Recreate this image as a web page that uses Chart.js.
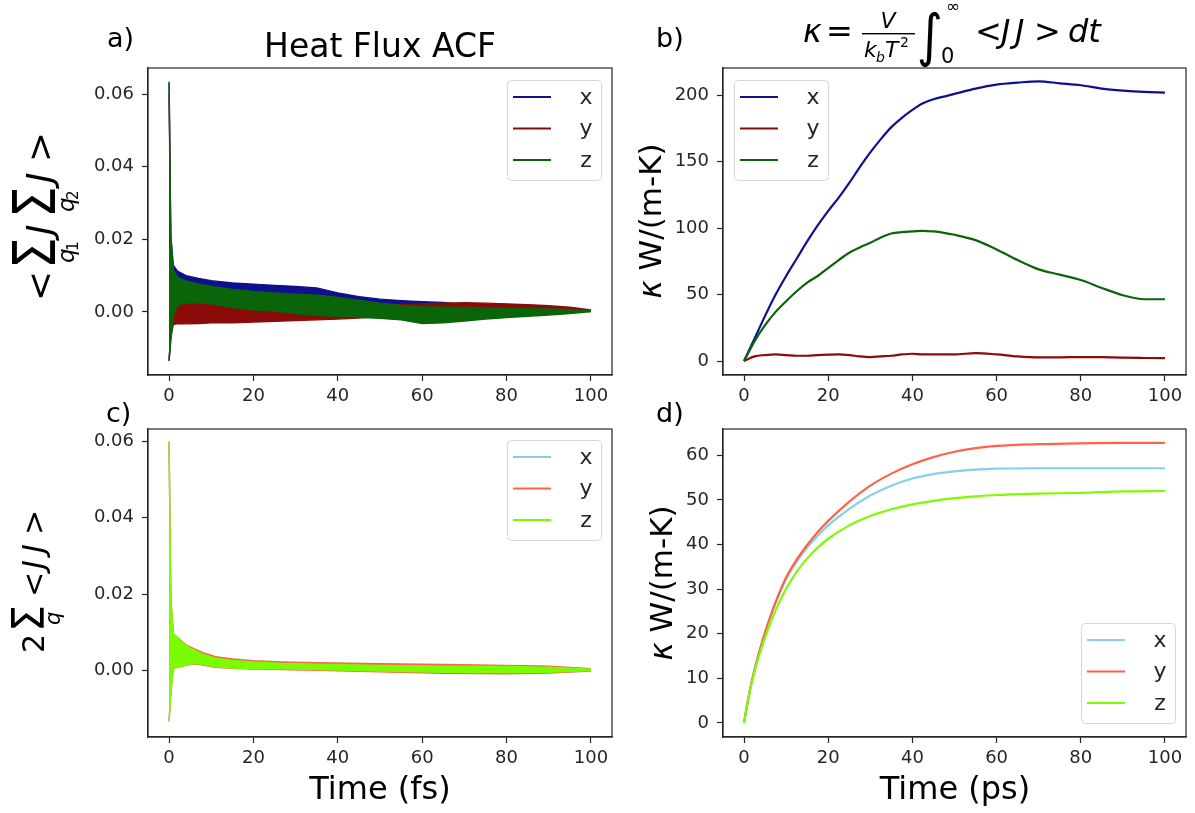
<!DOCTYPE html>
<html>
<head>
<meta charset="utf-8">
<title>Heat Flux ACF</title>
<script src="https://cdn.jsdelivr.net/npm/chart.js@4.4.1/dist/chart.umd.min.js"></script>
<style>
  body { margin: 0; background: #fff; }
  #fig { position: relative; width: 1195px; height: 813px; overflow: hidden; }
  #fig canvas { position: absolute; left: 0; top: 0; }
</style>
</head>
<body>
<div id="fig">
  <canvas id="panelA" width="1195" height="813"></canvas>
  <canvas id="panelB" width="1195" height="813"></canvas>
  <canvas id="panelC" width="1195" height="813"></canvas>
  <canvas id="panelD" width="1195" height="813"></canvas>
</div>
<script>
/* Data */

const names = ['x', 'y', 'z'];

// a) heat flux ACF, upper / lower edge of the noisy band for each direction
const tA = [0, 0.4, 1, 2, 4, 7, 10, 15, 20, 25, 30, 35, 40, 45, 50, 55, 60, 65, 70, 75, 80, 85, 90, 95, 100];
const aXHi = [0.063, 0.021, 0.0128, 0.0112, 0.0100, 0.0092, 0.0086, 0.0080, 0.0076, 0.0073, 0.0070, 0.0066, 0.0052, 0.0042, 0.0035, 0.0031, 0.0028, 0.0026, 0.0020, 0.0017, 0.0014, 0.0012, 0.0010, 0.0008, 0.0004];
const aXLo = [-0.0135, -0.006, -0.001, 0.0005, 0.0010, 0.0012, 0.0012, 0.0012, 0.0010, 0.0008, 0.0006, 0.0004, 0.0002, 0.0, -0.0002, -0.0004, -0.0006, -0.0006, -0.0005, -0.0004, -0.0003, -0.0002, -0.0001, 0.0, 0.0002];
const aYHi = [0.060, 0.015, 0.0035, 0.0030, 0.0028, 0.0026, 0.0024, 0.0018, 0.0012, 0.0010, 0.0009, 0.0009, 0.0012, 0.0015, 0.0018, 0.0020, 0.0022, 0.0024, 0.0025, 0.0024, 0.0022, 0.0020, 0.0017, 0.0013, 0.0005];
const aYLo = [-0.013, -0.007, -0.0035, -0.0032, -0.0033, -0.0032, -0.0030, -0.0030, -0.0028, -0.0026, -0.0024, -0.0022, -0.0020, -0.0017, -0.0013, -0.0010, -0.0008, -0.0006, -0.0004, -0.0003, -0.0002, -0.0001, 0.0, 0.0, 0.0001];
const aZHi = [0.0635, 0.021, 0.0115, 0.0095, 0.0085, 0.0076, 0.0070, 0.0062, 0.0056, 0.0052, 0.0049, 0.0046, 0.0040, 0.0032, 0.0024, 0.0018, 0.0014, 0.0013, 0.0012, 0.0011, 0.0010, 0.0009, 0.0008, 0.0006, 0.0004];
const aZLo = [-0.0135, -0.008, -0.001, 0.0018, 0.0025, 0.0025, 0.0022, 0.0012, 0.0005, 0.0002, -0.0005, -0.0010, -0.0012, -0.0015, -0.0018, -0.0022, -0.0032, -0.0030, -0.0025, -0.0020, -0.0016, -0.0012, -0.0009, -0.0005, 0.0001];

// b) kappa from the running integral (ps)
const tB = [0, 2.5, 5, 7.5, 10, 12.5, 15, 17.5, 20, 22.5, 25, 27.5, 30, 32.5, 35, 37.5, 40, 42.5, 45, 47.5, 50, 55, 60, 65, 70, 75, 80, 85, 90, 95, 100];
const bX = [0, 17, 34, 50, 64, 77, 90, 102, 113, 123, 134, 146, 157, 167, 176, 183, 189, 194, 197, 199, 201, 205, 208, 209.5, 210.5, 209, 207.5, 205, 203.5, 202.5, 202];
const bY = [0, 3.5, 4.5, 5, 4.5, 4, 4, 4.5, 4.8, 5, 4.5, 3.5, 3, 3.5, 4, 5, 5.5, 5, 5, 5, 5, 6, 5, 3.5, 2.8, 2.8, 3, 3, 2.5, 2.3, 2.2];
const bZ = [0, 15, 27, 37, 45, 52.5, 59, 64, 70, 76, 81.5, 85.5, 89, 93, 96, 97, 97.5, 98, 97.5, 96.5, 95, 91, 84, 76, 69, 65, 61, 55, 49.5, 46.5, 46.5];

// c) 2 sum_q <JJ>, band edges
const tC = [0, 0.4, 1, 2, 4, 6, 8, 11, 15, 20, 27, 35, 50, 65, 80, 90, 100];
const cXHi = [0.059, 0.018, 0.009, 0.008, 0.0062, 0.005, 0.004, 0.003, 0.0024, 0.002, 0.0016, 0.0014, 0.0011, 0.0009, 0.0008, 0.0006, 0.0002];
const cXLo = [-0.013, -0.005, 0.001, 0.001, 0.0015, 0.0019, 0.0016, 0.001, 0.0007, 0.0005, 0.0005, 0.0003, 0.0, -0.0003, -0.0004, -0.0003, 0.0];
const cYHi = [0.0600, 0.019, 0.0096, 0.0086, 0.0067, 0.0056, 0.0046, 0.0036, 0.0030, 0.0025, 0.0022, 0.0020, 0.0017, 0.0015, 0.0013, 0.0011, 0.0004];
const cYLo = [-0.0133, -0.006, 0.0005, 0.0008, 0.0013, 0.0017, 0.0014, 0.0008, 0.0005, 0.0003, 0.0002, 0.0, -0.0004, -0.0008, -0.0009, -0.0007, -0.0002];
const cZHi = [0.0595, 0.019, 0.0095, 0.0085, 0.0065, 0.0053, 0.0042, 0.0032, 0.0026, 0.0022, 0.0018, 0.0016, 0.0013, 0.0011, 0.0010, 0.0008, 0.0003];
const cZLo = [-0.0135, -0.006, 0.0005, 0.0008, 0.0013, 0.0018, 0.0015, 0.0009, 0.0006, 0.0004, 0.0004, 0.0002, -0.0002, -0.0005, -0.0006, -0.0005, -0.0001];

// d) kappa (ps)
const tD = [0, 1, 2, 3, 4, 5, 6, 8, 10, 12.5, 15, 17.5, 20, 25, 30, 35, 40, 45, 50, 55, 60, 70, 80, 90, 100];
const dX = [0, 5.5, 10, 13.8, 17.2, 20.3, 23.2, 28.1, 32.2, 36.1, 39.3, 42, 44.3, 48, 51, 53.2, 54.8, 55.8, 56.4, 56.8, 57, 57.1, 57.1, 57.1, 57.1];
const dY = [0, 5.5, 10, 13.8, 17.2, 20.3, 23.2, 28.3, 32.6, 36.6, 39.9, 42.8, 45.3, 49.6, 53.2, 55.9, 58, 59.6, 60.8, 61.6, 62.1, 62.5, 62.7, 62.8, 62.8];
const dZ = [0, 5.3, 9.7, 13.3, 16.4, 19.2, 21.8, 26.3, 30.1, 33.9, 36.9, 39.3, 41.3, 44.3, 46.4, 47.9, 49, 49.8, 50.4, 50.8, 51.1, 51.4, 51.6, 51.9, 52];

// tick labels
const ticksTime = [0, 20, 40, 60, 80, 100];
const ticksACF = [0, 0.02, 0.04, 0.06];
const ticksKappaB = [0, 50, 100, 150, 200];
const ticksKappaD = [0, 10, 20, 30, 40, 50, 60];

/* Styles */
const W = 1195, H = 813;
const FONT = "'DejaVu Sans', sans-serif";
const INK = '#262626';
const darkColors = ['#10108e', '#8b0a0a', '#0a640a'];
const lightColors = ['#87ceeb', '#ff6347', '#7cfc00'];

function pts(xs, ys) {
    return xs.map((x, i) => ({x: x, y: ys[i]}));
}

// noisy ACF drawn as a filled band between its two edges
function bandDatasets(colors, t, his, los) {
    let out = [];
    names.forEach((n, i) => {
        out.push({label: n, data: pts(t, his[i]), borderColor: colors[i], backgroundColor: colors[i],
            borderWidth: 1.4, pointRadius: 0, fill: '+1', order: names.length - i});
        out.push({label: n, data: pts(t, los[i]), borderColor: colors[i], backgroundColor: colors[i],
            borderWidth: 1.4, pointRadius: 0, fill: false, order: names.length - i});
    });
    return out;
}

function lineDatasets(colors, t, ys) {
    return names.map((n, i) => ({
        label: n, data: pts(t, ys[i]), borderColor: colors[i], borderWidth: 2.2,
        pointRadius: 0, fill: false, cubicInterpolationMode: 'monotone', order: names.length - i
    }));
}

function axis(min, max, ticks, fmt, isX) {
    return {
        type: 'linear', min: min, max: max,
        afterBuildTicks: s => { s.ticks = ticks.map(v => ({value: v})); },
        afterFit: s => { if (isX) s.height = 40; else s.width = 70; },
        ticks: {font: {family: FONT, size: 18}, color: INK, padding: isX ? 5 : 8,
            maxRotation: 0, autoSkip: false, callback: fmt},
        grid: {drawOnChartArea: false, drawTicks: true, tickLength: 6, tickWidth: 1.2, tickColor: INK},
        border: {display: true, color: INK, width: 1.2}
    };
}

function text(ctx, s, x, y, size, opt) {
    opt = opt || {};
    ctx.save();
    ctx.font = (opt.it ? 'italic ' : '') + size + 'px ' + FONT;
    ctx.fillStyle = '#000';
    ctx.textAlign = opt.align || 'left';
    ctx.textBaseline = 'alphabetic';
    ctx.translate(x, y);
    ctx.scale(opt.sx || 1, opt.sy || 1);
    ctx.fillText(s, 0, 0);
    ctx.restore();
}

// pieces of a rotated (bottom to top) axis label
function rotated(ctx, x, y, pieces) {
    ctx.save();
    ctx.translate(x, y);
    ctx.rotate(-Math.PI / 2);
    pieces.forEach(p => text(ctx, p.s, p.x, p.y, p.size, p));
    ctx.restore();
}

function kappaLabel(ctx, x, y) {
    ctx.save();
    ctx.translate(x, y);
    ctx.rotate(-Math.PI / 2);
    ctx.font = 'italic 31px ' + FONT;
    let w1 = ctx.measureText('κ').width;
    ctx.font = '31px ' + FONT;
    let w2 = ctx.measureText(' W/(m-K)').width;
    let x0 = -(w1 + w2) / 2;
    text(ctx, 'κ', x0, 0, 31, {it: true});
    text(ctx, ' W/(m-K)', x0 + w1, 0, 31);
    ctx.restore();
}

function drawLegend(ctx, bx, by, colors) {
    ctx.save();
    ctx.beginPath();
    ctx.roundRect(bx + 0.5, by + 0.5, 94, 100, 4);
    ctx.fillStyle = 'rgba(255,255,255,0.8)';
    ctx.fill();
    ctx.strokeStyle = '#d6d6d6';
    ctx.lineWidth = 1;
    ctx.stroke();
    names.forEach((n, i) => {
        let y = by + 17 + i * 31.5;
        ctx.beginPath();
        ctx.moveTo(bx + 6, y);
        ctx.lineTo(bx + 44, y);
        ctx.strokeStyle = colors[i];
        ctx.lineWidth = 2.2;
        ctx.stroke();
        ctx.font = '22px ' + FONT;
        ctx.fillStyle = INK;
        ctx.textAlign = 'center';
        ctx.textBaseline = 'middle';
        ctx.fillText(n, bx + 79, y + 1);
    });
    ctx.restore();
}

function makeChart(id, frame, datasets, xs, ys, deco) {
    return new Chart(document.getElementById(id), {
        type: 'line',
        data: {datasets: datasets},
        options: {
            responsive: false,
            maintainAspectRatio: false,
            animation: false,
            layout: {padding: {left: frame.l - 70, right: W - frame.r, top: frame.t, bottom: H - frame.b - 40}},
            plugins: {legend: {display: false}, tooltip: {enabled: false}},
            scales: {x: xs, y: ys}
        },
        plugins: [{
            id: 'deco' + id,
            afterDatasetsDraw: chart => {
                let a = chart.chartArea, ctx = chart.ctx;
                ctx.save();
                ctx.strokeStyle = INK;
                ctx.lineWidth = 1.2;
                ctx.strokeRect(a.left, a.top, a.right - a.left, a.bottom - a.top);
                ctx.restore();
            },
            afterDraw: chart => deco(chart.ctx)
        }]
    });
}

const fmt2 = v => v.toFixed(2);
const fmt0 = v => String(v);
const topRow = {t: 68, b: 375};
const botRow = {t: 429, b: 737};

// a)
makeChart('panelA', {l: 148, r: 612, t: topRow.t, b: topRow.b},
    bandDatasets(darkColors, tA, [aXHi, aYHi, aZHi], [aXLo, aYLo, aZLo]),
    axis(-5, 105, ticksTime, fmt0, true),
    axis(-0.0174, 0.0672, ticksACF, fmt2, false),
    ctx => {
        text(ctx, 'a)', 107, 47, 27);
        text(ctx, 'Heat Flux ACF', 380, 57, 33, {align: 'center'});
        rotated(ctx, 52, 303, [
            {s: '<', x: 2, y: 0, size: 36},
            {s: 'Σ', x: 34, y: 3, size: 59, sx: 0.85},
            {s: 'q', x: 40, y: 22, size: 23, it: true},
            {s: '1', x: 52, y: 26, size: 15},
            {s: 'J', x: 68, y: 0, size: 36, it: true},
            {s: 'Σ', x: 85, y: 3, size: 59, sx: 0.85},
            {s: 'q', x: 91, y: 22, size: 23, it: true},
            {s: '2', x: 103, y: 26, size: 15},
            {s: 'J', x: 120, y: 0, size: 36, it: true},
            {s: '>', x: 141, y: 0, size: 36}
        ]);
        drawLegend(ctx, 507, 80, darkColors);
    });

// b)
makeChart('panelB', {l: 723, r: 1186, t: topRow.t, b: topRow.b},
    lineDatasets(darkColors, tB, [bX, bY, bZ]),
    axis(-5, 105, ticksTime, fmt0, true),
    axis(-10.5, 220.5, ticksKappaB, fmt0, false),
    ctx => {
        text(ctx, 'b)', 656, 47, 27);
        text(ctx, 'κ', 803, 42, 32, {it: true});
        text(ctx, '=', 826, 42, 32);
        text(ctx, 'V', 888, 28, 22, {it: true, align: 'center'});
        ctx.fillStyle = '#000';
        ctx.fillRect(862, 33, 53, 1.4);
        text(ctx, 'k', 864, 57, 22, {it: true});
        text(ctx, 'b', 876, 62, 14, {it: true});
        text(ctx, 'T', 885, 57, 22, {it: true});
        text(ctx, '2', 900, 47, 14);
        text(ctx, '∫', 917, 55, 50, {sy: 1.15});
        text(ctx, '∞', 946, 12, 17);
        text(ctx, '0', 941, 63, 21);
        text(ctx, '<', 975, 42, 32);
        text(ctx, 'J', 1001, 42, 32, {it: true});
        text(ctx, 'J', 1015, 42, 32, {it: true});
        text(ctx, '>', 1034, 42, 32);
        text(ctx, 'dt', 1068, 42, 32, {it: true});
        kappaLabel(ctx, 661, 221);
        drawLegend(ctx, 734, 80, darkColors);
    });

// c)
makeChart('panelC', {l: 148, r: 612, t: botRow.t, b: botRow.b},
    bandDatasets(lightColors, tC, [cXHi, cYHi, cZHi], [cXLo, cYLo, cZLo]),
    axis(-5, 105, ticksTime, fmt0, true),
    axis(-0.0175, 0.0633, ticksACF, fmt2, false),
    ctx => {
        text(ctx, 'c)', 106, 422, 27);
        rotated(ctx, 44, 653, [
            {s: '2', x: 0, y: 0, size: 30},
            {s: 'Σ', x: 21, y: 0, size: 45, sx: 0.95},
            {s: 'q', x: 28, y: 16, size: 21, it: true},
            {s: '<', x: 56, y: 0, size: 30},
            {s: 'J', x: 84, y: 0, size: 30, it: true},
            {s: 'J', x: 100, y: 0, size: 30, it: true},
            {s: '>', x: 118, y: 0, size: 30}
        ]);
        text(ctx, 'Time (fs)', 380, 799, 32, {align: 'center'});
        drawLegend(ctx, 507, 440, lightColors);
    });

// d)
makeChart('panelD', {l: 723, r: 1186, t: botRow.t, b: botRow.b},
    lineDatasets(lightColors, tD, [dX, dY, dZ]),
    axis(-5, 105, ticksTime, fmt0, true),
    axis(-3.14, 65.9, ticksKappaD, fmt0, false),
    ctx => {
        text(ctx, 'd)', 656, 422, 27);
        kappaLabel(ctx, 672, 583);
        text(ctx, 'Time (ps)', 955, 799, 32, {align: 'center'});
        drawLegend(ctx, 1081, 623, lightColors);
    });
</script>
</body>
</html>
